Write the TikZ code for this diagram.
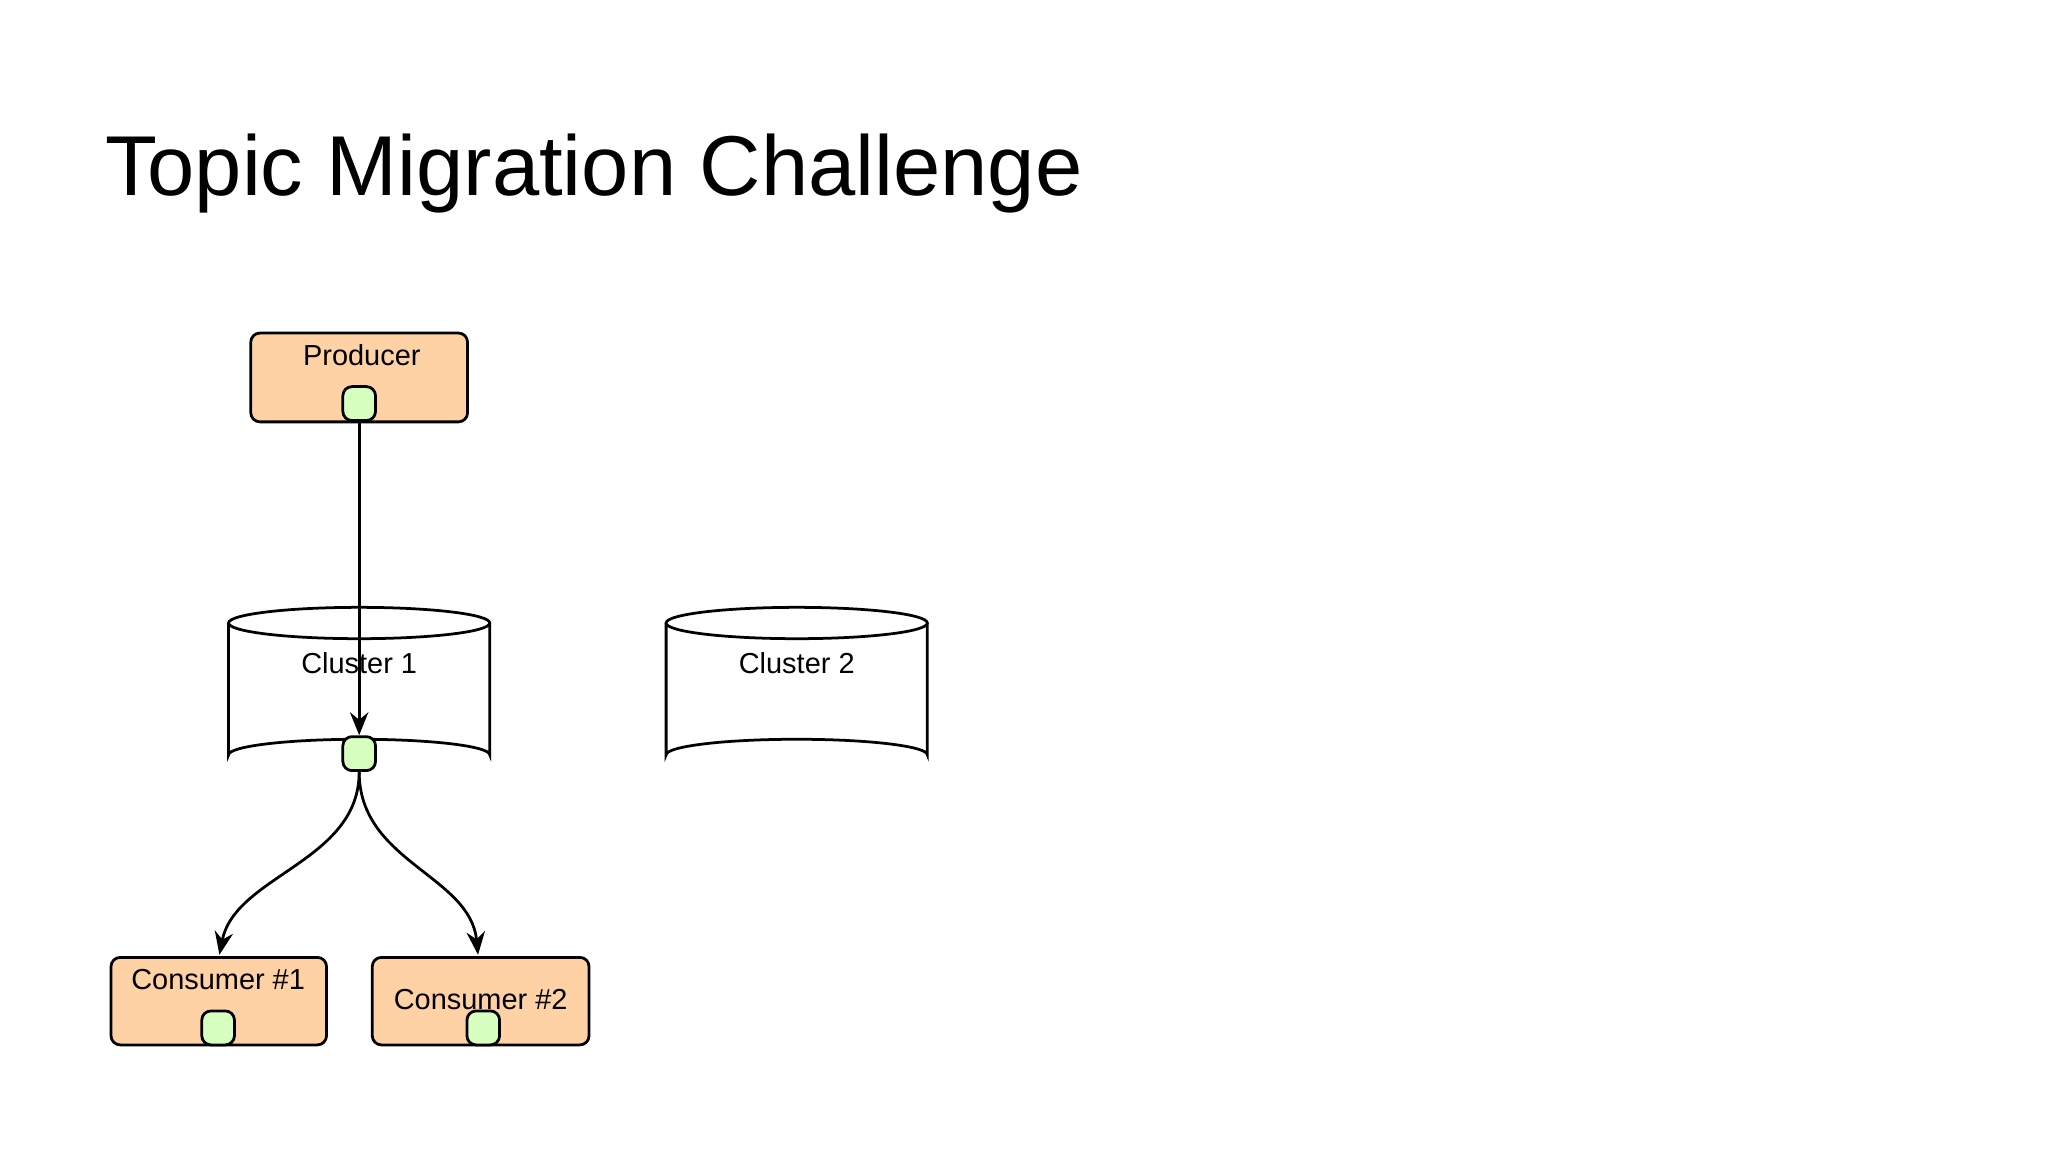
\documentclass[tikz,border=0pt]{standalone}
\usepackage{fontspec}
\setmainfont{Liberation Sans}
\usetikzlibrary{arrows.meta}
\begin{document}
\begin{tikzpicture}[x=0.01cm,y=-0.01cm,
  box/.style={draw=black,line width=0.6pt,fill=orange!35!white,rounded corners=2pt},
  port/.style={draw=black,line width=0.6pt,fill=green!50!lime!25!white,rounded corners=2pt,minimum width=0.25cm,minimum height=0.26cm,inner sep=0pt},
  lbl/.style={font=\fontsize{6.3pt}{7pt}\selectfont},
  cyl/.style={draw=black,line width=0.6pt,fill=white},
  arr/.style={-{Stealth[length=5pt,width=4pt]},line width=0.6pt}]
\useasboundingbox (0,0) rectangle (1568,882);
\node[anchor=base west,font=\fontsize{18.5pt}{20pt}\selectfont] (title) at (68,150) {Topic Migration Challenge};
% producer
\draw[box] (192,255) rectangle (358,323);
\node[lbl] (prod) at (277,272) {Producer};
\node[port] (pp) at (275,309) {};
% clusters
\foreach \x/\n in {175/1,510/2}{
  \draw[cyl] (\x,477) -- (\x,578) arc[start angle=180,end angle=360,x radius=100,y radius=12] -- (\x+200,477);
  \draw[cyl] (\x+100,477) ellipse[x radius=100,y radius=12];
  \node[lbl] at (\x+100,508) {Cluster \n};
}
\node[port] (cp) at (275,577) {};
\draw[arr] (pp.south) -- (cp.north);
% consumers
\draw[box] (85,733) rectangle (250,800);
\node[lbl] (c1) at (167,750) {Consumer \#1};
\node[port] (c1p) at (167,787) {};
\draw[box] (285,733) rectangle (451,800);
\node[lbl] (c2) at (368,765) {Consumer \#2};
\node[port] (c2p) at (370,787) {};
\coordinate (t1) at (168,731);
\coordinate (t2) at (366,731);
\draw[arr] (cp.south) .. controls (275,660) and (180,670) .. (t1);
\draw[arr] (cp.south) .. controls (275,660) and (360,670) .. (t2);
\end{tikzpicture}
\end{document}
